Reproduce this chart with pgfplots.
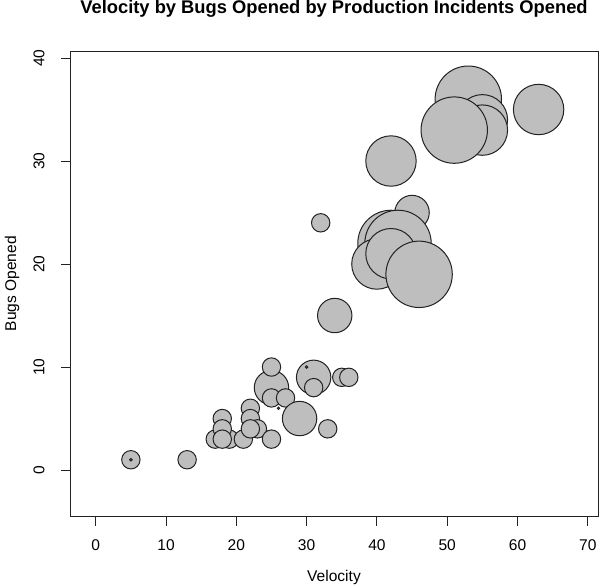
\documentclass[border=0pt]{standalone}
\usepackage{pgfplots}
\pgfplotsset{compat=1.18}
\usepackage{fontspec}
\setmainfont{Liberation Sans}
\definecolor{circgray}{HTML}{BEBEBE}
\definecolor{edge}{HTML}{222222}
\begin{document}
\begin{tikzpicture}
\useasboundingbox (-70bp,-70.5bp) rectangle (530bp,516.5bp);
\begin{axis}[
  at={(0,0)}, anchor=south west,
  scale only axis, width=528bp, height=465.5bp,
  xmin=-3.66, xmax=71.45, ymin=-4.51, ymax=40.68,
  xtick={0,10,...,70}, ytick={0,10,...,40},
  xtick pos=left, ytick pos=left, tick align=outside,
  major tick length=9bp,
  axis line style={line width=0.9bp, draw=edge},
  every tick/.style={line width=0.9bp, draw=edge},
  /pgf/number format/assume math mode=true,
  tick label style={font=\fontsize{15.6}{18}\selectfont},
  xticklabel style={yshift=-11bp},
  yticklabel style={rotate=90, anchor=south, yshift=13bp},
  xlabel={Velocity}, ylabel={Bugs Opened},
  label style={font=\fontsize{15.6}{18}\selectfont},
  xlabel style={at={(axis description cs:0.5,-0.131)}, anchor=center},
  ylabel style={at={(axis description cs:-0.1098,0.5)}, anchor=center},
  title={Velocity by Bugs Opened by Production Incidents Opened},
  title style={at={(axis description cs:0.5,1.0773)}, anchor=center, font=\fontsize{18.4}{21}\bfseries},
  clip=false,
]
\addplot[scatter, only marks, mark=*,
  scatter/use mapped color={draw=edge, fill=circgray},
  visualization depends on={8*\thisrow{r}+1.2 \as \rad},
  scatter/@pre marker code/.append style={/tikz/mark size=\rad bp},
  mark options={line width=1bp}]
table[x=x, y=y] {
x y r
5 1 1
5 1 0
13 1 1
17 3 1
19 3 1
18 5 1
18 4 1
18 3 1
21 3 1
22 6 1
22 5 1
23 4 1
22 4 1
25 3 1
25 8 2
25 10 1
25 7 1
27 7 1
26 6 0
29 5 2
31 9 2
30 10 0
31 8 1
35 9 1
36 9 1
33 4 1
32 24 1
34 15 2
45 25 2
42 22 4
43 22 4
40 20 3
42 21 3
46 19 4
42 30 3
53 36 4
55 34 3
55 33 3
51 33 4
63 35 3
};
\end{axis}
\end{tikzpicture}
\end{document}
